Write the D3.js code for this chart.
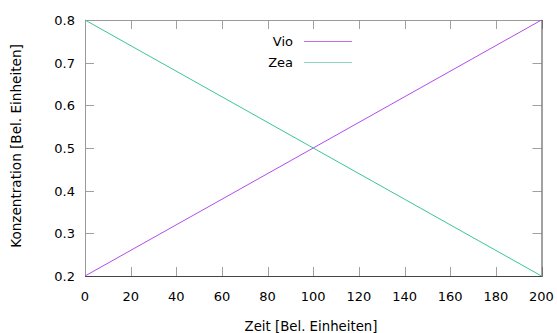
<!DOCTYPE html>
<html>
<head>
<meta charset="utf-8">
<script src="https://cdn.jsdelivr.net/npm/d3@7"></script>
<style>
  html, body { margin: 0; padding: 0; background: #fff; }
  svg text { font-family: "DejaVu Sans", sans-serif; fill: #000; }
</style>
</head>
<body>
<svg id="chart" width="557" height="333"></svg>
<script>
// Time points (start / end) and the two concentration series
const timePoints = [0, 200];
const vioValues = [0.2, 0.8];
const zeaValues = [0.8, 0.2];
const xTicks = [0, 20, 40, 60, 80, 100, 120, 140, 160, 180, 200];
const yTicks = [0.2, 0.3, 0.4, 0.5, 0.6, 0.7, 0.8];
const seriesNames = ["Vio", "Zea"];
const seriesColors = ["#b24cee", "#3cc49c"];
const legendColors = ["#c070f0", "#8cd8c0"];

const svg = d3.select("#chart");
const pLeft = 85, pRight = 541.5, pTop = 20, pBottom = 276;

const x = d3.scaleLinear().domain([0, 200]).range([pLeft, pRight]);
const y = d3.scaleLinear().domain([0.2, 0.8]).range([pBottom, pTop]);

const tickLen = 9;
const tickColor = "#a0a0a0";

// inward ticks on all four sides
const gt = svg.append("g").attr("stroke", tickColor).attr("stroke-width", 1);
xTicks.forEach(v => {
  const px = Math.round(x(v)) + 0.5;
  gt.append("line").attr("x1", px).attr("x2", px).attr("y1", pBottom).attr("y2", pBottom - tickLen);
  gt.append("line").attr("x1", px).attr("x2", px).attr("y1", pTop).attr("y2", pTop + tickLen);
});
yTicks.forEach(v => {
  const py = Math.round(y(v)) + 0.5;
  gt.append("line").attr("x1", pLeft).attr("x2", pLeft + tickLen).attr("y1", py).attr("y2", py);
  gt.append("line").attr("x1", pRight).attr("x2", pRight - tickLen).attr("y1", py).attr("y2", py);
});

// frame: left/top lighter, right/bottom darker
const frame = svg.append("g").attr("stroke-width", 1);
frame.append("line").attr("x1", pLeft + 0.5).attr("x2", pLeft + 0.5).attr("y1", pTop).attr("y2", pBottom + 1)
  .attr("stroke", "#999");
frame.append("line").attr("x1", pLeft).attr("x2", pRight + 1).attr("y1", pTop + 0.5).attr("y2", pTop + 0.5)
  .attr("stroke", "#999");
frame.append("line").attr("x1", pRight + 0.5).attr("x2", pRight + 0.5).attr("y1", pTop).attr("y2", pBottom + 1)
  .attr("stroke", "#444");
frame.append("line").attr("x1", pLeft).attr("x2", pRight + 1).attr("y1", pBottom + 0.5).attr("y2", pBottom + 0.5)
  .attr("stroke", "#444");

// tick labels
svg.append("g").selectAll("text").data(xTicks).join("text")
  .attr("x", d => x(d)).attr("y", pBottom + 25)
  .attr("text-anchor", "middle").attr("font-size", 13)
  .text(d => d);
svg.append("g").selectAll("text").data(yTicks).join("text")
  .attr("x", pLeft - 10).attr("y", d => y(d) + 5)
  .attr("text-anchor", "end").attr("font-size", 13)
  .text(d => d.toFixed(1));

// axis titles
svg.append("text")
  .attr("x", 311).attr("y", 331)
  .attr("text-anchor", "middle").attr("font-size", 13.3)
  .text("Zeit [Bel. Einheiten]");
svg.append("text")
  .attr("transform", "translate(21,146) rotate(-90)")
  .attr("text-anchor", "middle").attr("font-size", 13.6)
  .text("Konzentration [Bel. Einheiten]");

// series lines
const line = d3.line().x(d => x(d[0])).y(d => y(d[1]));
[vioValues, zeaValues].forEach((vals, i) => {
  svg.append("path")
    .datum(timePoints.map((t, k) => [t, vals[k]]))
    .attr("d", line)
    .attr("fill", "none")
    .attr("stroke", seriesColors[i])
    .attr("stroke-width", 1);
});

// legend
seriesNames.forEach((name, i) => {
  const ly = 41 + i * 20.5;
  svg.append("text")
    .attr("x", 293).attr("y", ly + 5)
    .attr("text-anchor", "end").attr("font-size", 13)
    .text(name);
  svg.append("line")
    .attr("x1", 304).attr("x2", 352)
    .attr("y1", Math.round(ly) + 0.5).attr("y2", Math.round(ly) + 0.5)
    .attr("stroke", legendColors[i]).attr("stroke-width", 1);
});
</script>
</body>
</html>
